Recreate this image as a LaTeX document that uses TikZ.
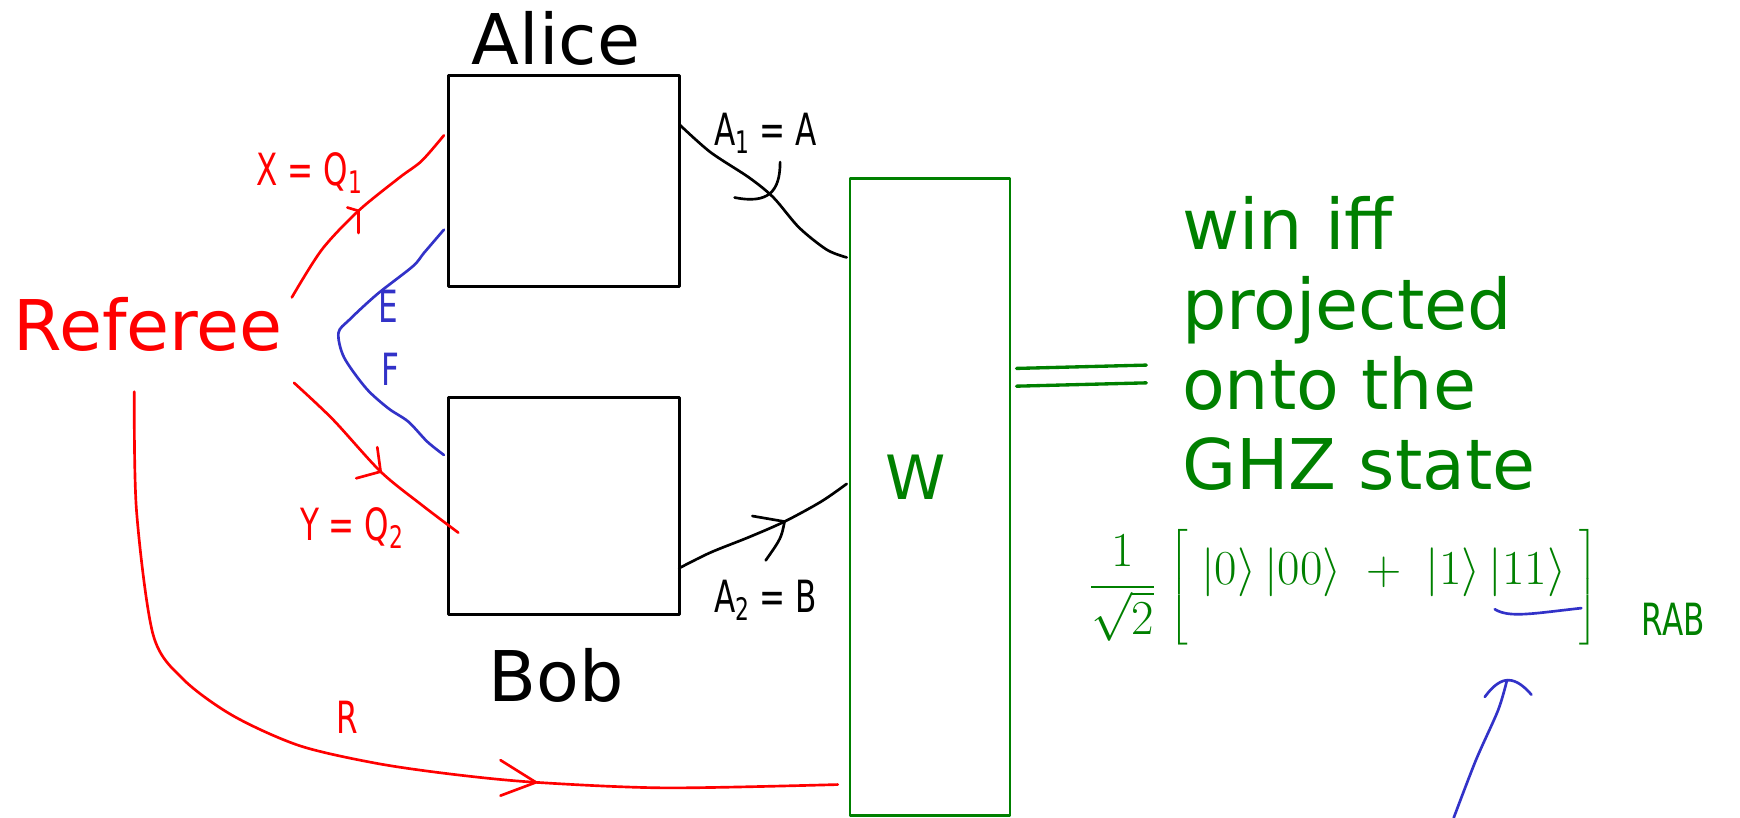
\RequirePackage{fix-cm}
\documentclass[tikz,border=0pt]{standalone}
\usepackage{amsmath}
\usepackage{fontspec}
\setmainfont{DejaVu Sans}
\definecolor{penred}{RGB}{255,0,0}
\definecolor{pengreen}{RGB}{0,128,0}
\definecolor{penblue}{RGB}{50,50,200}
\newcommand\handtxt[1]{\scalebox{0.7}[1]{#1}}
\tikzset{
  blackbox/.style={draw=black, line width=2.5pt, inner sep=0pt, fill=white},
  greenbox/.style={draw=pengreen, line width=2.2pt, inner sep=0pt},
  redpen/.style={draw=penred, line width=2.4pt},
  bluepen/.style={draw=penblue, line width=2.4pt},
  blackpen/.style={draw=black, line width=2.4pt},
  greenpen/.style={draw=pengreen, line width=3pt},
  bigtext/.style={inner sep=0pt, font=\fontsize{63}{70}\selectfont},
  hand/.style={inner sep=0pt, font=\fontsize{40}{44}\selectfont},
}
\begin{document}
\begin{tikzpicture}[x=1pt,y=-1pt,line cap=round,line join=round]
\useasboundingbox (0,0) rectangle (1568,737);

% boxes
\node[blackbox, minimum width=208pt, minimum height=190pt] (alice) at (508,163) {};
\node[blackbox, minimum width=208pt, minimum height=196pt] (bob) at (508,456) {};
\node[greenbox, minimum width=144pt, minimum height=574pt] (wbox) at (838,448) {};

% titles
\node[bigtext, anchor=base] (alicelabel) at (501,58) {Alice};
\node[bigtext, anchor=base] (boblabel) at (501,632) {Bob};
\node[bigtext, anchor=base west, text=penred] (referee) at (12,316) {Referee};
\node[bigtext, anchor=base, text=pengreen, font=\fontsize{55}{60}\selectfont] (wlabel) at (825,450) {W};

% green text
\node[bigtext, anchor=base west, text=pengreen] (win) at (1065,225) {win iff};
\node[bigtext, anchor=base west, text=pengreen] (proj) at (1065,297) {projected};
\node[bigtext, anchor=base west, text=pengreen] (onto) at (1065,369) {onto the};
\node[bigtext, anchor=base west, text=pengreen] (ghz) at (1065,441) {GHZ state};

% equals sign
\coordinate (eqa) at (916,332);
\coordinate (eqb) at (1033,329);
\coordinate (eqc) at (916,348);
\coordinate (eqd) at (1033,345);
\draw[greenpen] (eqa) -- (eqb);
\draw[greenpen] (eqc) -- (eqd);

% formula
\node[inner sep=0pt, anchor=west, text=pengreen, font=\fontsize{44}{48}\selectfont] (formula) at (982,529)
  {$\displaystyle\frac{1}{\sqrt{2}}\;\biggl[\;\raisebox{13pt}{$|0\rangle\,|00\rangle\;+\;|1\rangle\,|11\rangle$}\;\biggr]$};
\node[hand, text=pengreen] (rab) at (1508,558) {\handtxt{RAB}};
\coordinate (ul1) at (1347,549);
\coordinate (ul2) at (1425,548);
\draw[bluepen] (ul1) .. controls (1360,557) and (1380,553) .. (ul2);

% blue arrow at bottom right
\coordinate (barrstart) at (1310,737);
\coordinate (barrtip) at (1358,613);
\draw[bluepen] plot[smooth] coordinates {(barrstart) (1330,685) (1350,640) (barrtip)};
\draw[bluepen] (1338,628) .. controls (1350,612) and (1362,605) .. (1380,626);

% red X = Q1
\coordinate (xs) at (263,268);
\coordinate (xe) at (400,122);
\draw[redpen] plot[smooth] coordinates {(xs) (290,225) (323,190) (360,160) (380,145) (xe)};
\coordinate (xtip) at (323,190);
\draw[redpen] ([shift={(-10,-3)}]xtip) -- (xtip) -- ([shift={(0,20)}]xtip);
\node[hand, text=penred] (xlabel) at (279,156) {\handtxt{X = Q\textsubscript{1}}};

% blue E / F
\coordinate (es) at (400,207);
\coordinate (fe) at (400,410);
\draw[bluepen] plot[smooth] coordinates {(es) (382,228) (372,240) (340,265) (315,288) (305,300) (310,322) (330,350) (350,368) (368,380) (385,398) (fe)};
\node[hand, text=penblue] (elabel) at (350,276) {\handtxt{E}};
\node[hand, text=penblue] (flabel) at (352,333) {\handtxt{F}};

% red Y = Q2
\coordinate (ys) at (265,345);
\coordinate (ye) at (413,480);
\draw[redpen] plot[smooth] coordinates {(ys) (300,378) (343,425) (380,455) (ye)};
\coordinate (ytip) at (343,425);
\draw[redpen] ([shift={(-3,-22)}]ytip) -- (ytip) -- ([shift={(-22,6)}]ytip);
\node[hand, text=penred] (ylabel) at (317,476) {\handtxt{Y = Q\textsubscript{2}}};

% red R
\coordinate (rs) at (121,353);
\coordinate (re) at (755,707);
\draw[redpen] plot[smooth] coordinates {(rs) (123,460) (138,572) (165,612) (210,645) (270,672) (340,688) (410,698) (483,705) (600,710) (re)};
\coordinate (rtip) at (483,705);
\draw[redpen] ([shift={(-32,-20)}]rtip) -- (rtip) -- ([shift={(-32,12)}]rtip);
\node[hand, text=penred] (rlabel) at (313,646) {\handtxt{R}};

% black A1 = A
\coordinate (as) at (612,112);
\coordinate (ae) at (763,232);
\draw[blackpen] plot[smooth] coordinates {(as) (640,137) (675,160) (697,178) (720,205) (745,225) (ae)};
\coordinate (atip) at (697,178);
\draw[blackpen] ([shift={(6,-32)}]atip) .. controls ([shift={(6,-5)}]atip) and ([shift={(-5,6)}]atip) .. ([shift={(-35,0)}]atip);
\node[hand] (a1label) at (690,120) {\handtxt{A\textsubscript{1} = A}};

% black A2 = B
\coordinate (bs) at (612,512);
\coordinate (be) at (763,436);
\draw[blackpen] plot[smooth] coordinates {(bs) (640,498) (675,484) (707,470) (740,452) (be)};
\coordinate (btip) at (707,470);
\draw[blackpen] ([shift={(-29,-5)}]btip) -- (btip) .. controls ([shift={(-3,15)}]btip) .. ([shift={(-17,35)}]btip);
\node[hand] (a2label) at (690,541) {\handtxt{A\textsubscript{2} = B}};
\end{tikzpicture}
\end{document}
